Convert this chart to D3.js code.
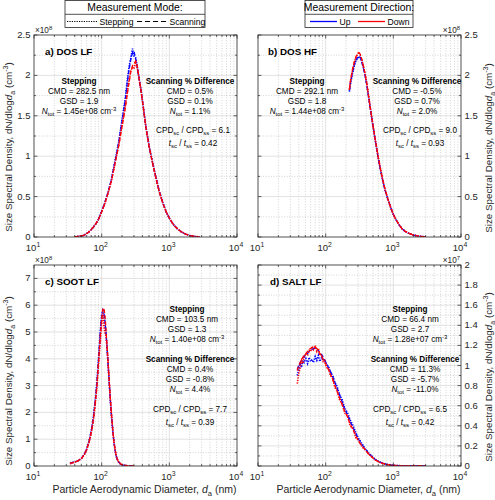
<!DOCTYPE html>
<html><head><meta charset="utf-8">
<script src="https://cdn.jsdelivr.net/npm/d3@7"></script>
<style>body{margin:0;background:#fff}</style>
</head><body>
<script>
// ---------------- DATA ----------------
const dA = [40,47,54,62,70,80,90,100,112,125,140,158,178,200,222,240,255,270,285,300,318,335,355,380,410,450,500,560,630,710,800,900,1020,1160,1320,1500,1750,2050,2400,2800];
const aStepUp   = [0.00,0.01,0.02,0.05,0.09,0.15,0.22,0.32,0.43,0.56,0.72,0.95,1.17,1.45,1.70,1.95,2.12,2.22,2.33,2.24,2.22,2.12,1.98,1.83,1.63,1.37,1.14,0.94,0.75,0.57,0.43,0.31,0.22,0.15,0.10,0.065,0.035,0.016,0.006,0.001];
const aStepDown = [0.00,0.01,0.02,0.05,0.09,0.15,0.22,0.31,0.42,0.55,0.70,0.92,1.13,1.38,1.60,1.80,1.95,2.06,2.10,2.08,2.17,2.10,1.97,1.82,1.62,1.36,1.13,0.93,0.74,0.56,0.42,0.31,0.22,0.15,0.10,0.065,0.035,0.016,0.006,0.001];
const aScanUp   = [0.00,0.01,0.02,0.05,0.09,0.15,0.22,0.32,0.43,0.56,0.72,0.94,1.16,1.43,1.68,1.92,2.08,2.20,2.28,2.30,2.20,2.10,1.97,1.82,1.62,1.36,1.13,0.93,0.74,0.56,0.42,0.31,0.22,0.15,0.10,0.065,0.035,0.016,0.006,0.001];
const aScanDown = [0.00,0.01,0.02,0.05,0.09,0.15,0.22,0.31,0.42,0.55,0.70,0.91,1.12,1.37,1.58,1.78,1.92,2.05,2.12,2.14,2.18,2.12,1.98,1.82,1.62,1.36,1.13,0.93,0.74,0.56,0.42,0.31,0.22,0.15,0.10,0.065,0.035,0.016,0.006,0.001];

const dB = [224,235,250,265,280,295,310,325,340,360,380,405,430,460,490,525,560,600,650,700,760,830,900,1000,1100,1220,1350,1500,1700,1950,2250,2600,3000];
const bStepUp   = [1.80,1.92,2.03,2.12,2.18,2.21,2.23,2.22,2.18,2.10,2.02,1.89,1.74,1.58,1.42,1.26,1.12,0.97,0.82,0.69,0.57,0.47,0.38,0.28,0.21,0.15,0.10,0.07,0.045,0.026,0.014,0.006,0.002];
const bStepDown = [1.82,1.95,2.07,2.16,2.22,2.26,2.29,2.25,2.20,2.12,2.03,1.90,1.75,1.58,1.43,1.27,1.13,0.98,0.83,0.70,0.58,0.47,0.38,0.28,0.21,0.15,0.10,0.07,0.045,0.026,0.014,0.006,0.002];
const bScanUp   = [1.81,1.93,2.04,2.13,2.19,2.22,2.24,2.22,2.17,2.09,2.01,1.88,1.74,1.57,1.42,1.26,1.12,0.97,0.82,0.69,0.57,0.47,0.38,0.28,0.21,0.15,0.10,0.07,0.045,0.026,0.014,0.006,0.002];
const bScanDown = [1.83,1.96,2.08,2.17,2.23,2.27,2.28,2.26,2.21,2.12,2.03,1.90,1.75,1.58,1.43,1.27,1.13,0.98,0.83,0.70,0.58,0.47,0.38,0.28,0.21,0.15,0.10,0.07,0.045,0.026,0.014,0.006,0.002];

const dC = [34,40,45,50,55,60,65,70,75,80,85,90,95,100,104,108,112,116,120,125,130,135,140,146,152,158,165,175,190,210,240,270,300];
const cStepUp   = [0.10,0.15,0.20,0.28,0.42,0.63,0.92,1.30,1.78,2.40,3.15,4.05,4.95,5.65,5.80,5.55,5.25,4.90,4.40,3.70,3.00,2.35,1.82,1.30,0.87,0.58,0.34,0.17,0.07,0.03,0.01,0.00,0.00];
const cStepDown = [0.08,0.14,0.19,0.27,0.40,0.60,0.88,1.22,1.65,2.25,2.95,3.80,4.60,5.30,5.70,5.20,4.95,4.85,4.45,3.75,3.05,2.40,1.88,1.33,0.90,0.60,0.35,0.18,0.08,0.03,0.01,0.00,0.00];
const cScanUp   = [0.10,0.15,0.20,0.28,0.42,0.62,0.91,1.28,1.75,2.35,3.08,3.98,4.88,5.60,5.82,5.70,5.40,4.98,4.42,3.72,3.02,2.38,1.85,1.32,0.88,0.59,0.34,0.17,0.08,0.03,0.01,0.00,0.00];
const cScanDown = [0.10,0.15,0.20,0.28,0.42,0.62,0.90,1.25,1.70,2.30,3.00,3.90,4.80,5.50,5.85,5.90,5.60,5.10,4.50,3.80,3.10,2.45,1.90,1.35,0.90,0.60,0.35,0.18,0.08,0.03,0.01,0.00,0.00];

const dD = [38,40,42,44,46,48,51,54,57,60,63,66,70,74,78,82,87,92,97,103,110,118,127,137,148,160,175,190,210,230,255,280,310,345,385,430,480,540,610,700,800,950,1150,1400,1700,2100,2600,3000];
const dStepUp   = [0.90,0.96,1.02,0.98,1.05,1.03,1.07,1.02,1.08,1.04,1.06,1.03,1.09,1.05,1.10,1.04,1.08,1.05,1.06,1.01,0.99,0.93,0.90,0.83,0.79,0.71,0.66,0.58,0.53,0.46,0.40,0.33,0.27,0.22,0.17,0.13,0.10,0.065,0.045,0.028,0.016,0.009,0.004,0.002,0.001,0,0,0];
const dStepDown = [0.82,0.92,0.98,1.05,1.02,1.08,1.12,1.10,1.15,1.14,1.19,1.16,1.20,1.14,1.17,1.10,1.11,1.04,1.05,0.98,0.97,0.90,0.87,0.78,0.75,0.66,0.62,0.53,0.50,0.40,0.37,0.28,0.25,0.19,0.16,0.12,0.09,0.06,0.04,0.025,0.015,0.008,0.004,0.002,0.001,0,0,0];
const dScanUp   = [0.96,1.00,1.03,1.05,1.07,1.09,1.11,1.12,1.14,1.15,1.16,1.17,1.17,1.16,1.15,1.13,1.11,1.08,1.05,1.02,0.98,0.94,0.89,0.83,0.77,0.71,0.64,0.57,0.51,0.44,0.38,0.32,0.26,0.21,0.17,0.13,0.095,0.065,0.042,0.026,0.016,0.008,0.004,0.002,0.001,0,0,0];
const dScanDown = [0.95,1.00,1.03,1.06,1.08,1.10,1.12,1.14,1.16,1.17,1.18,1.19,1.18,1.17,1.15,1.12,1.09,1.06,1.03,1.00,0.96,0.91,0.86,0.80,0.74,0.68,0.61,0.55,0.49,0.42,0.36,0.30,0.24,0.20,0.16,0.12,0.09,0.06,0.04,0.025,0.015,0.008,0.004,0.002,0.001,0,0,0];

const panelTitles = ["a) DOS LF","b) DOS HF","c) SOOT LF","d) SALT LF"];
const stepCMD  = ["282.5 nm","292.1 nm","103.5 nm","66.4 nm"];
const stepGSD  = ["1.9","1.8","1.3","2.7"];
const stepNtot = ["1.45e+08","1.44e+08","1.40e+08","1.28e+07"];
const diffCMD  = ["0.5%","-0.5%","0.4%","11.3%"];
const diffGSD  = ["0.1%","0.7%","-0.8%","-5.7%"];
const diffNtot = ["1.1%","2.0%","4.4%","-11.0%"];
const cpdRatio = ["6.1","9.0","7.7","6.5"];
const timeRatio = ["0.42","0.93","0.39","0.42"];
const yTicksAB = [0,0.5,1,1.5,2,2.5];
const yTicksC  = [0,1,2,3,4,5,6,7];
const yTicksD  = [0,0.2,0.4,0.6,0.8,1,1.2,1.4,1.6,1.8,2];
const xTicks   = [10,100,1000,10000];
const modeLabels = ["Stepping","Scanning"];
const dirLabels  = ["Up","Down"];

// ---------------- LAYOUT ----------------
const W=495,H=500, FONT="'Liberation Sans', Arial, Helvetica, sans-serif";
const BLUE="#0000ff", RED="#ff0000";
const svg=d3.select("body").append("svg").attr("width",W).attr("height",H)
  .style("font-family",FONT);
svg.append("rect").attr("width",W).attr("height",H).attr("fill","#fff");

function rich(text, parts, fs, supK){
  let shift=0;
  parts.forEach(p=>{
    const ts=text.append("tspan").text(p.t);
    const target = p.sub? fs*0.3 : (p.sup? -fs*(supK||0.42) : 0);
    ts.attr("dy", target-shift); shift=target;
    if(p.sub||p.sup) ts.attr("font-size", fs*0.72);
    if(p.it) ts.attr("font-style","italic");
  });
  return text;
}

const panels=[
 {x0:34,x1:237,y0:35,y1:237,ymax:2.5,ticks:yTicksAB,minor:0.25,side:"left",exp:"8",d:dA,s:[aStepUp,aStepDown,aScanUp,aScanDown],
  tx:45,ty:55, stepX:79, diffX:190, sy:84, cpdX:193, cy:133, xlab:false, ylabCy:147},
 {x0:258,x1:461,y0:35,y1:237,ymax:2.5,ticks:yTicksAB,minor:0.25,side:"right",exp:"8",d:dB,s:[bStepUp,bStepDown,bScanUp,bScanDown],
  tx:268,ty:55, stepX:307, diffX:417, sy:84, cpdX:420, cy:133, xlab:false, ylabCy:148},
 {x0:34,x1:237,y0:265,y1:466,ymax:7.5,ticks:yTicksC,minor:0.5,side:"left",exp:"8",d:dC,s:[cStepUp,cStepDown,cScanUp,cScanDown],
  tx:45,ty:285, stepX:187, diffX:190, sy:312, stacked:true, cpdX:190, cy:412, xlab:true, ylabCy:381},
 {x0:258,x1:461,y0:265,y1:466,ymax:2,ticks:yTicksD,minor:0.1,side:"right",exp:"7",d:dD,s:[dStepUp,dStepDown,dScanUp,dScanDown],
  tx:270,ty:285, stepX:410, diffX:415, sy:312, stacked:true, cpdX:410, cy:412, xlab:true, ylabCy:377}
];

const styles=[
 {c:BLUE,dash:"1.3,1.2",w:1.6},
 {c:RED,dash:"1.3,1.2",w:1.6},
 {c:BLUE,dash:"4,2.2",w:1.3},
 {c:RED,dash:"4,2.2",w:1.3}
];

panels.forEach((p,i)=>{
  const x=d3.scaleLog().domain([10,1e4]).range([p.x0,p.x1]);
  const y=d3.scaleLinear().domain([0,p.ymax]).range([p.y1,p.y0]);
  const g=svg.append("g");
  // minor grid
  const minorX=[];
  [10,100,1000].forEach(dec=>{for(let k=2;k<=9;k++) minorX.push(dec*k);});
  g.selectAll(null).data(minorX).join("line")
   .attr("x1",d=>x(d)).attr("x2",d=>x(d)).attr("y1",p.y0).attr("y2",p.y1)
   .attr("stroke","#b8b8b8").attr("stroke-width",0.6).attr("stroke-dasharray","1,1.6");
  const minorY=d3.range(p.minor,p.ymax-1e-9,p.minor*2).map(v=>+v.toFixed(4));
  g.selectAll(null).data(minorY).join("line")
   .attr("x1",p.x0).attr("x2",p.x1).attr("y1",d=>y(d)).attr("y2",d=>y(d))
   .attr("stroke","#b8b8b8").attr("stroke-width",0.6).attr("stroke-dasharray","1,1.6");
  // major grid
  g.selectAll(null).data(xTicks.slice(1,-1)).join("line")
   .attr("x1",d=>x(d)).attr("x2",d=>x(d)).attr("y1",p.y0).attr("y2",p.y1)
   .attr("stroke","#d6d6d6").attr("stroke-width",0.7);
  g.selectAll(null).data(p.ticks.filter(t=>t>0&&t<p.ymax)).join("line")
   .attr("x1",p.x0).attr("x2",p.x1).attr("y1",d=>y(d)).attr("y2",d=>y(d))
   .attr("stroke","#d6d6d6").attr("stroke-width",0.7);

  // data
  const clipId="clip"+i;
  svg.append("clipPath").attr("id",clipId).append("rect")
    .attr("x",p.x0).attr("y",p.y0-6).attr("width",p.x1-p.x0).attr("height",p.y1-p.y0+6);
  const line=d3.line().x(d=>x(d[0])).y(d=>y(d[1]));
  const dg=g.append("g").attr("clip-path",`url(#${clipId})`);
  [0,2,1,3].forEach(k=>{
    dg.append("path").datum(d3.zip(p.d,p.s[k])).attr("d",line)
      .attr("fill","none").attr("stroke",styles[k].c).attr("stroke-width",styles[k].w)
      .attr("stroke-dasharray",styles[k].dash);
  });

  // box
  g.append("rect").attr("x",p.x0).attr("y",p.y0).attr("width",p.x1-p.x0).attr("height",p.y1-p.y0)
   .attr("fill","none").attr("stroke","#262626").attr("stroke-width",0.8);
  // ticks
  const tk=g.append("g").attr("stroke","#262626").attr("stroke-width",0.7);
  xTicks.forEach(t=>{
    tk.append("line").attr("x1",x(t)).attr("x2",x(t)).attr("y1",p.y1).attr("y2",p.y1-3.5);
    tk.append("line").attr("x1",x(t)).attr("x2",x(t)).attr("y1",p.y0).attr("y2",p.y0+3.5);
  });
  minorX.forEach(t=>{
    tk.append("line").attr("x1",x(t)).attr("x2",x(t)).attr("y1",p.y1).attr("y2",p.y1-2);
    tk.append("line").attr("x1",x(t)).attr("x2",x(t)).attr("y1",p.y0).attr("y2",p.y0+2);
  });
  p.ticks.forEach(t=>{
    tk.append("line").attr("x1",p.x0).attr("x2",p.x0+3.5).attr("y1",y(t)).attr("y2",y(t));
    tk.append("line").attr("x1",p.x1).attr("x2",p.x1-3.5).attr("y1",y(t)).attr("y2",y(t));
  });
  minorY.forEach(t=>{
    tk.append("line").attr("x1",p.x0).attr("x2",p.x0+2).attr("y1",y(t)).attr("y2",y(t));
    tk.append("line").attr("x1",p.x1).attr("x2",p.x1-2).attr("y1",y(t)).attr("y2",y(t));
  });

  // tick labels
  const TF=9.5, tcol="#262626";
  xTicks.forEach(t=>{
    const tt=g.append("text").attr("x",x(t)-1).attr("y",p.y1+13.5).attr("text-anchor","middle")
      .attr("font-size",TF).attr("fill",tcol);
    rich(tt,[{t:"10"},{t:String(Math.round(Math.log10(t))),sup:true}],TF,0.36);
  });
  p.ticks.forEach(t=>{
    const left=p.side==="left";
    g.append("text").attr("x",left? p.x0-3.5 : p.x1+3.5).attr("y",y(t)+3)
      .attr("text-anchor",left?"end":"start").attr("font-size",TF).attr("fill",tcol)
      .text(d3.format("~g")(t));
  });
  // exponent
  const ex=g.append("text").attr("y",p.y0-2.5).attr("font-size",8.2).attr("fill",tcol);
  if(p.side==="left") ex.attr("x",p.x0+1); else ex.attr("x",p.x1-1).attr("text-anchor","end");
  rich(ex,[{t:"\u00d710"},{t:p.exp,sup:true}],8.2,0.36);

  // y label
  const ylx = p.side==="left"? p.x0-22 : p.x1+31;
  const yl=g.append("text").attr("transform",`translate(${ylx},${p.ylabCy}) rotate(-90)`)
    .attr("text-anchor","middle").attr("font-size",9.8).attr("fill",tcol);
  rich(yl,[{t:"Size Spectral Density, dN/dlog"},{t:"d",it:true},{t:"a",sub:true},{t:" (cm"},{t:"-3",sup:true},{t:")"}],9.8);

  if(p.xlab){
    const xl=g.append("text").attr("x",(p.x0+p.x1)/2+9).attr("y",p.y1+27).attr("text-anchor","middle")
      .attr("font-size",10.5).attr("fill",tcol);
    rich(xl,[{t:"Particle Aerodynamic Diameter, "},{t:"d",it:true},{t:"a",sub:true},{t:" (nm)"}],10.5);
  }

  // title
  g.append("text").attr("x",p.tx).attr("y",p.ty).attr("font-size",9.8).attr("font-weight","bold")
    .attr("fill","#000").text(panelTitles[i]);

  // annotations
  const AF=8.2, LH=10;
  const ann=(xx,yy,parts,bold)=>{
    const t=g.append("text").attr("x",xx).attr("y",yy).attr("text-anchor","middle")
      .attr("font-size",AF).attr("fill","#000");
    if(bold) t.attr("font-weight","bold");
    rich(t,parts,AF);
  };
  let sy=p.sy;
  ann(p.stepX,sy,[{t:"Stepping"}],true);
  ann(p.stepX,sy+LH,[{t:"CMD = "+stepCMD[i]}]);
  ann(p.stepX,sy+2*LH,[{t:"GSD = "+stepGSD[i]}]);
  ann(p.stepX,sy+3*LH,[{t:"N",it:true},{t:"tot",sub:true},{t:" = "+stepNtot[i]+" cm"},{t:"-3",sup:true}]);
  let dy0 = p.stacked? sy+5*LH : sy;
  ann(p.diffX,dy0,[{t:"Scanning % Difference"}],true);
  ann(p.diffX,dy0+LH,[{t:"CMD = "+diffCMD[i]}]);
  ann(p.diffX,dy0+2*LH,[{t:"GSD = "+diffGSD[i]}]);
  ann(p.diffX,dy0+3*LH,[{t:"N",it:true},{t:"tot",sub:true},{t:" = "+diffNtot[i]}]);
  ann(p.cpdX,p.cy,[{t:"CPD"},{t:"sc",sub:true},{t:" / CPD"},{t:"ss",sub:true},{t:" = "+cpdRatio[i]}]);
  ann(p.cpdX,p.cy+13,[{t:"t",it:true},{t:"sc",sub:true},{t:" / "},{t:"t",it:true},{t:"ss",sub:true},{t:" = "+timeRatio[i]}]);
});

// ---------------- LEGENDS ----------------
function legend(x0,x1,title,tfs,items){
  const g=svg.append("g");
  g.append("rect").attr("x",x0).attr("y",0.5).attr("width",x1-x0).attr("height",27)
    .attr("fill","#fff").attr("stroke","#262626").attr("stroke-width",0.8);
  g.append("line").attr("x1",x0).attr("x2",x1).attr("y1",14.3).attr("y2",14.3)
    .attr("stroke","#262626").attr("stroke-width",0.8);
  g.append("text").attr("x",(x0+x1)/2).attr("y",11).attr("text-anchor","middle")
    .attr("font-size",tfs).attr("fill","#000").text(title);
  items.forEach(it=>{
    g.append("line").attr("x1",it.l0).attr("x2",it.l1).attr("y1",21.5).attr("y2",21.5)
      .attr("stroke",it.c).attr("stroke-width",it.w).attr("stroke-dasharray",it.dash||null);
    g.append("text").attr("x",it.l1+2.5).attr("y",24.5).attr("font-size",8.6).attr("fill","#000").text(it.t);
  });
}
legend(65,205,"Measurement Mode:",10.4,[
  {l0:67,l1:97,c:"#000",w:1.2,dash:"1.2,1.2",t:modeLabels[0]},
  {l0:137,l1:167,c:"#000",w:1,dash:"5,3",t:modeLabels[1]}
]);
legend(305,413,"Measurement Direction:",10.4,[
  {l0:310,l1:337,c:BLUE,w:1.3,t:dirLabels[0]},
  {l0:358,l1:385,c:RED,w:1.3,t:dirLabels[1]}
]);
</script>
</body></html>
